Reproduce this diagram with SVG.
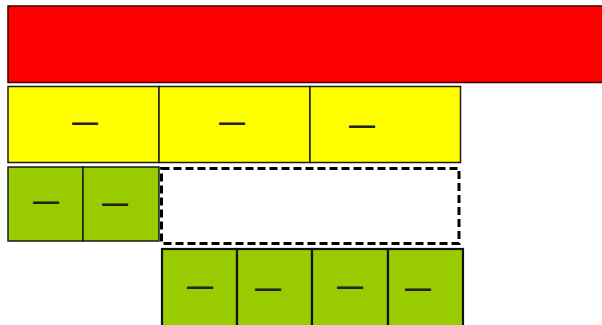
<svg xmlns="http://www.w3.org/2000/svg" width="602" height="325" viewBox="0 0 602 325">
<style>
.b{stroke:#1a1a1a;stroke-width:1.5}
.red{fill:#FF0000;stroke:#3a0000;stroke-width:1.5}
.y{fill:#FFFF00}
.g{fill:#99CC00}
.g3{fill:#99CC00;stroke:#111;stroke-width:2.2}
.d{font-family:"Liberation Sans",Arial,sans-serif;font-size:26px;font-weight:bold;fill:#222;text-anchor:middle}
.dash{fill:#fff;stroke:#000;stroke-width:3;stroke-dasharray:8 4}
</style>
<rect width="602" height="325" fill="#fff"/>
<g id="red"><rect class="red" x="8" y="6" width="600" height="76.5"/></g>
<g id="yellow1"><rect class="y b" x="8" y="86.5" width="151" height="76"/><text class="d" x="85" y="131">—</text></g>
<g id="yellow2"><rect class="y b" x="159" y="86.5" width="151" height="76"/><text class="d" x="232" y="131">—</text></g>
<g id="yellow3"><rect class="y b" x="310" y="86.5" width="150.5" height="76"/><text class="d" x="362" y="134">—</text></g>
<g id="green1"><rect class="g b" x="8" y="167" width="75" height="74"/><text class="d" x="46" y="210">—</text></g>
<g id="green2"><rect class="g b" x="83" y="167" width="76" height="74"/><text class="d" x="115" y="212">—</text></g>
<g id="empty"><rect class="dash" x="161.5" y="168.5" width="297.5" height="75"/></g>
<g id="green3"><rect class="g3" x="162" y="249" width="75" height="80"/><text class="d" x="200" y="295">—</text></g>
<g id="green4"><rect class="g3" x="237" y="249" width="75" height="80"/><text class="d" x="268" y="297">—</text></g>
<g id="green5"><rect class="g3" x="312" y="249" width="76" height="80"/><text class="d" x="350" y="295">—</text></g>
<g id="green6"><rect class="g3" x="388" y="249" width="75" height="80"/><text class="d" x="418" y="297">—</text></g>
<g id="connectors"></g>
</svg>
